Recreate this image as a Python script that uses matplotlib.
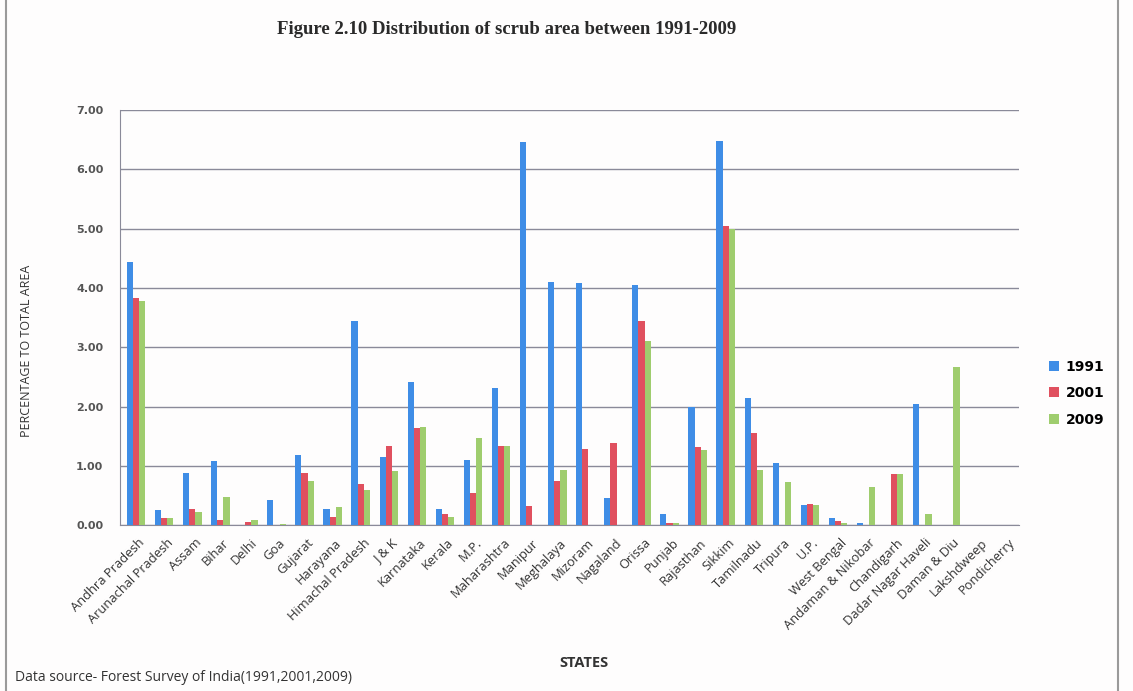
import matplotlib
matplotlib.use("Agg")
import matplotlib.pyplot as plt
import numpy as np
from matplotlib.patches import Rectangle

estados = ["Andhra Pradesh", "Arunachal Pradesh", "Assam", "Bihar", "Delhi", "Goa",
           "Gujarat", "Harayana", "Himachal Pradesh", "J & K", "Karnataka", "Kerala",
           "M.P.", "Maharashtra", "Manipur", "Meghalaya", "Mizoram", "Nagaland",
           "Orissa", "Punjab", "Rajasthan", "Sikkim", "Tamilnadu", "Tripura", "U.P.",
           "West Bengal", "Andaman & Nikobar", "Chandigarh", "Dadar Nagar Haveli",
           "Daman & Diu", "Lakshdweep", "Pondicherry"]

v1991 = [4.43, 0.25, 0.88, 1.08, 0.00, 0.43, 1.18, 0.28, 3.44, 1.15, 2.42, 0.28,
         1.09, 2.31, 6.45, 4.10, 4.08, 0.46, 4.04, 0.18, 2.00, 6.47, 2.14, 1.04, 0.34,
         0.12, 0.04, 0.00, 2.05, 0.00, 0.00, 0.00]
v2001 = [3.83, 0.12, 0.27, 0.08, 0.06, 0.00, 0.88, 0.14, 0.70, 1.33, 1.63, 0.18,
         0.55, 1.34, 0.32, 0.75, 1.28, 1.38, 3.44, 0.03, 1.32, 5.05, 1.55, 0.00, 0.36,
         0.07, 0.00, 0.87, 0.00, 0.00, 0.00, 0.00]
v2009 = [3.78, 0.12, 0.23, 0.47, 0.08, 0.02, 0.74, 0.31, 0.59, 0.91, 1.65, 0.14,
         1.47, 1.34, 0.00, 0.93, 0.00, 0.00, 3.10, 0.03, 1.27, 5.00, 0.93, 0.72, 0.34,
         0.03, 0.64, 0.87, 0.19, 2.66, 0.00, 0.00]

series = [("1991", v1991, "#3f8de6"), ("2001", v2001, "#e0505f"), ("2009", v2009, "#9fcd6e")]

fig = plt.figure(figsize=(11.33, 6.91), dpi=100, facecolor="#fefdfd")
ax = fig.add_axes([0.106, 0.240, 0.793, 0.601])
ax.set_facecolor("#fefdfd")

x = np.arange(len(estados))
ancho = 0.22
for i, (nombre, valores, color) in enumerate(series):
    ax.bar(x + (i - 1) * ancho + 0.07, valores, width=ancho, color=color, label=nombre, zorder=3)

ax.set_xlim(-0.5, len(estados) - 0.5)
ax.set_ylim(0, 7)
ax.set_yticks(np.arange(0, 7.01, 1))
ax.set_yticklabels([f"{t:.2f}" for t in np.arange(0, 7.01, 1)], fontsize=8,
                   fontweight="bold", color="#555555", family="DejaVu Sans")
ax.yaxis.grid(True, color="#8a8a99", linewidth=1.0, zorder=0)
ax.tick_params(axis="y", length=0, pad=12)
ax.tick_params(axis="x", length=0, pad=8)
ax.set_xticks(x + 0.15)
ax.set_xticklabels(estados, rotation=45, ha="right", rotation_mode="anchor",
                   fontsize=9.3, color="#333333", family="Open Sans")
for lado in ["top", "right"]:
    ax.spines[lado].set_visible(False)
ax.spines["left"].set_color("#8a8a99")
ax.spines["bottom"].set_color("#8a8a99")

ax.set_ylabel("PERCENTAGE TO TOTAL AREA", fontsize=9, color="#333333", family="Open Sans")
ax.yaxis.set_label_coords(-0.097, 0.42)

fig.text(0.447, 0.958, "Figure 2.10 Distribution of scrub area between 1991-2009",
         ha="center", va="center", fontsize=13.5, fontweight="bold",
         family="Liberation Serif", color="#2a2a2a")
fig.text(0.515, 0.040, "STATES", ha="center", va="center", fontsize=10.5,
         fontweight="bold", family="Open Sans", color="#333333")
fig.text(0.013, 0.020, "Data source- Forest Survey of India(1991,2001,2009)",
         ha="left", va="center", fontsize=10, family="Open Sans", color="#333333")

ax.legend(loc="center left", bbox_to_anchor=(1.02, 0.318), frameon=False,
          prop={"family": "DejaVu Sans", "weight": "bold", "size": 10},
          handlelength=0.7, handleheight=0.7, labelspacing=0.9, handletextpad=0.5)

# marco exterior
fig.patches.append(Rectangle((0.005, -0.01), 0.982, 1.02, transform=fig.transFigure,
                             fill=False, edgecolor="#9a9a9a", linewidth=1.5))

fig.savefig("out.png", dpi=100, facecolor=fig.get_facecolor())
